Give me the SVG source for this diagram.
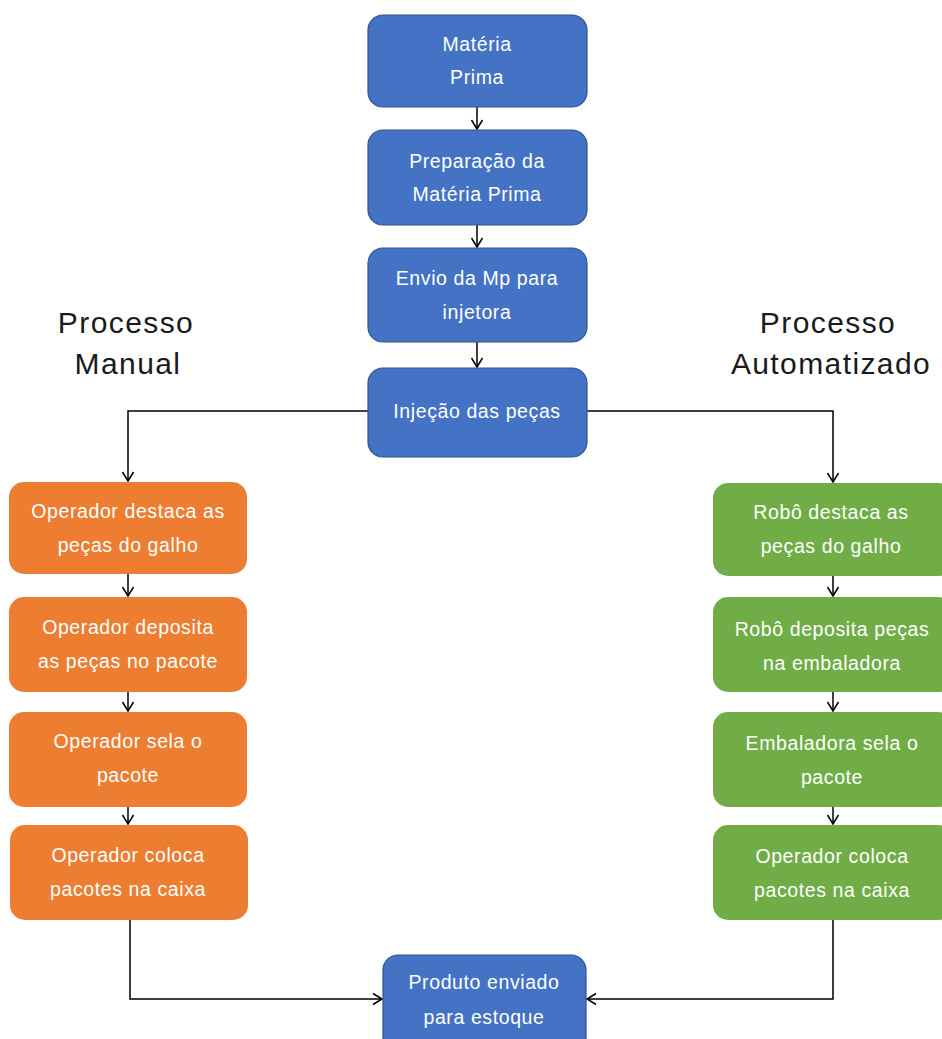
<svg xmlns="http://www.w3.org/2000/svg" width="942" height="1039" viewBox="0 0 942 1039">
<defs>
<marker id="arr" markerWidth="14" markerHeight="14" refX="11" refY="7" orient="auto" markerUnits="userSpaceOnUse">
<polyline points="2,1.5 11,7 2,12.5" fill="none" stroke="#000" stroke-width="1.5"/>
</marker>
<style>
.blue{fill:#4472C4;stroke:#2F528F;stroke-width:1.2}
.orange{fill:#ED7D31}
.green{fill:#70AD47}
.t{font-family:"Liberation Sans",Arial,sans-serif;font-size:19.5px;fill:#fff;text-anchor:middle;letter-spacing:0.6px}
.h{font-family:"Liberation Sans",Arial,sans-serif;font-size:30px;fill:#1a1a1a;text-anchor:middle;letter-spacing:1.4px}
.c{fill:none;stroke:#000;stroke-width:1.5}
</style>
</defs>
<rect width="942" height="1039" fill="#fff"/>
<g id="connectors">
<path class="c" d="M477 107 V129" marker-end="url(#arr)"/>
<path class="c" d="M477 225 V247" marker-end="url(#arr)"/>
<path class="c" d="M477 342 V367" marker-end="url(#arr)"/>
<path class="c" d="M368 411 H128 V481" marker-end="url(#arr)"/>
<path class="c" d="M587 411 H833 V482" marker-end="url(#arr)"/>
<path class="c" d="M128 574 V596" marker-end="url(#arr)"/>
<path class="c" d="M128 692 V711" marker-end="url(#arr)"/>
<path class="c" d="M128 807 V824" marker-end="url(#arr)"/>
<path class="c" d="M833 576 V596" marker-end="url(#arr)"/>
<path class="c" d="M833 692 V711" marker-end="url(#arr)"/>
<path class="c" d="M833 807 V824" marker-end="url(#arr)"/>
<path class="c" d="M130 920 V999 H382" marker-end="url(#arr)"/>
<path class="c" d="M833 920 V999 H587" marker-end="url(#arr)"/>
</g>
<g id="title-manual">
<text class="h" x="126" y="333">Processo</text>
<text class="h" x="128" y="374">Manual</text>
</g>
<g id="title-auto">
<text class="h" x="828" y="333">Processo</text>
<text class="h" x="831" y="374">Automatizado</text>
</g>
<g id="n1"><rect class="blue" x="368" y="15" width="219" height="92" rx="15"/>
<text class="t" x="477" y="51">Matéria</text><text class="t" x="477" y="84">Prima</text></g>
<g id="n2"><rect class="blue" x="368" y="130" width="219" height="95" rx="15"/>
<text class="t" x="477" y="168">Preparação da</text><text class="t" x="477" y="201">Matéria Prima</text></g>
<g id="n3"><rect class="blue" x="368" y="248" width="219" height="94" rx="15"/>
<text class="t" x="477" y="285">Envio da Mp para</text><text class="t" x="477" y="319">injetora</text></g>
<g id="n4"><rect class="blue" x="368" y="368" width="219" height="89" rx="15"/>
<text class="t" x="477" y="418">Injeção das peças</text></g>
<g id="m1"><rect class="orange" x="9" y="482" width="238" height="92" rx="15"/>
<text class="t" x="128" y="518">Operador destaca as</text><text class="t" x="128" y="552">peças do galho</text></g>
<g id="m2"><rect class="orange" x="9" y="597" width="238" height="95" rx="15"/>
<text class="t" x="128" y="634">Operador deposita</text><text class="t" x="128" y="668">as peças no pacote</text></g>
<g id="m3"><rect class="orange" x="9" y="712" width="238" height="95" rx="15"/>
<text class="t" x="128" y="748">Operador sela o</text><text class="t" x="128" y="782">pacote</text></g>
<g id="m4"><rect class="orange" x="10" y="825" width="238" height="95" rx="15"/>
<text class="t" x="128" y="862">Operador coloca</text><text class="t" x="128" y="896">pacotes na caixa</text></g>
<g id="a1"><rect class="green" x="713" y="483" width="240" height="93" rx="15"/>
<text class="t" x="831" y="519">Robô destaca as</text><text class="t" x="831" y="553">peças do galho</text></g>
<g id="a2"><rect class="green" x="713" y="597" width="240" height="95" rx="15"/>
<text class="t" x="832" y="636">Robô deposita peças</text><text class="t" x="832" y="670">na embaladora</text></g>
<g id="a3"><rect class="green" x="713" y="712" width="240" height="95" rx="15"/>
<text class="t" x="832" y="750">Embaladora sela o</text><text class="t" x="832" y="784">pacote</text></g>
<g id="a4"><rect class="green" x="713" y="825" width="240" height="95" rx="15"/>
<text class="t" x="832" y="863">Operador coloca</text><text class="t" x="832" y="897">pacotes na caixa</text></g>
<g id="final"><rect class="blue" x="383" y="955" width="203" height="100" rx="15"/>
<text class="t" x="484" y="989">Produto enviado</text><text class="t" x="484" y="1024">para estoque</text></g>
</svg>
